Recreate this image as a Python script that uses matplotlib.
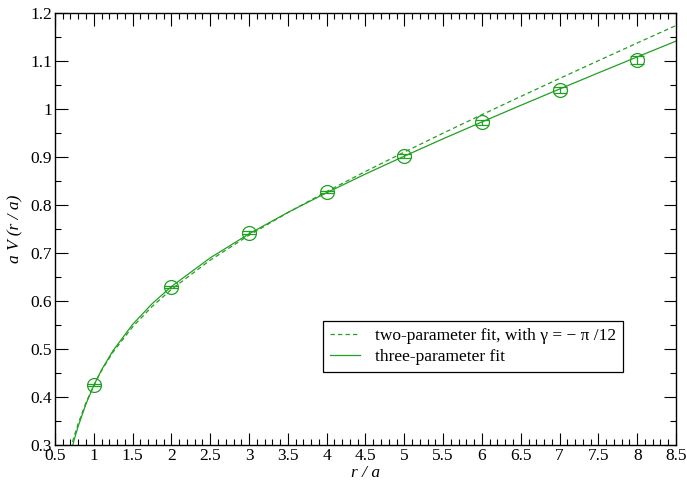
#!/usr/bin/env python3
"""
Static potential with two- and three-parameter fits
"""

import matplotlib.pyplot as plt
from matplotlib.ticker import MultipleLocator, FormatStrFormatter

# lattice data
r_data = [1, 2, 3, 4, 5, 6, 7, 8]
v_data = [0.424, 0.629, 0.742, 0.827, 0.902, 0.972, 1.040, 1.102]
v_err = [0.002, 0.002, 0.003, 0.003, 0.004, 0.005, 0.006, 0.008]

# fit curves
r_fit = [0.70, 0.75, 0.80, 0.90, 1.00, 1.10, 1.25, 1.50, 1.75, 2.00, 2.50, 3.00,
         3.50, 4.00, 4.50, 5.00, 5.50, 6.00, 6.50, 7.00, 7.50, 8.00, 8.50]
v_two = [0.2910, 0.3194, 0.3447, 0.3880, 0.4240, 0.4547, 0.4937, 0.5459, 0.5881,
         0.6241, 0.6849, 0.7369, 0.7840, 0.8280, 0.8698, 0.9102, 0.9496, 0.9882,
         1.0261, 1.0636, 1.1007, 1.1375, 1.1740]
v_three = [0.2813, 0.3120, 0.3391, 0.3854, 0.4237, 0.4562, 0.4969, 0.5509, 0.5939,
           0.6299, 0.6897, 0.7398, 0.7844, 0.8255, 0.8645, 0.9017, 0.9379, 0.9730,
           1.0076, 1.0416, 1.0753, 1.1085, 1.1415]

GREEN = '#21a021'

plt.rcParams['font.family'] = ['Liberation Serif', 'DejaVu Serif']

fig = plt.figure(figsize=(6.87, 4.83), dpi=100)
ax = fig.add_axes([0.080, 0.079, 0.904, 0.894])

ax.plot(r_fit, v_two, color=GREEN, linewidth=0.9, dashes=(3.5, 2.5),
        label='two-parameter fit, with γ = − π /12')
ax.plot(r_fit, v_three, color=GREEN, linewidth=0.9, label='three-parameter fit')
ax.errorbar(r_data, v_data, yerr=v_err, fmt='o', mfc='none', mec=GREEN, ms=10,
            mew=0.9, ecolor=GREEN, elinewidth=0.9, capsize=5, capthick=0.9)

ax.set_xlim(0.5, 8.5)
ax.set_ylim(0.3, 1.2)
ax.xaxis.set_major_locator(MultipleLocator(0.5))
ax.xaxis.set_minor_locator(MultipleLocator(0.1))
ax.yaxis.set_major_locator(MultipleLocator(0.1))
ax.yaxis.set_minor_locator(MultipleLocator(0.05))
ax.xaxis.set_major_formatter(FormatStrFormatter('%g'))
ax.yaxis.set_major_formatter(FormatStrFormatter('%g'))
ax.tick_params(which='both', direction='in', top=True, right=True, labelsize=12.5,
               width=0.8, colors='black')
ax.tick_params(which='major', length=9, pad=2)
ax.tick_params(which='minor', length=4.5)
for s in ax.spines.values():
    s.set_linewidth(1.0)

ax.set_xlabel('r / a', fontsize=12.5, style='italic', labelpad=1)
ax.set_ylabel('a V (r / a)', fontsize=12.5, style='italic', labelpad=5)

leg = ax.legend(loc='lower right', bbox_to_anchor=(0.915, 0.169), fontsize=12.5,
                frameon=True, fancybox=False, edgecolor='black', framealpha=1,
                handlelength=1.7, handletextpad=0.9, borderpad=0.4,
                labelspacing=0.25, borderaxespad=0)
leg.get_frame().set_linewidth(0.9)

plt.savefig('out.png', dpi=100)
plt.close()
print('Saved: out.png')
